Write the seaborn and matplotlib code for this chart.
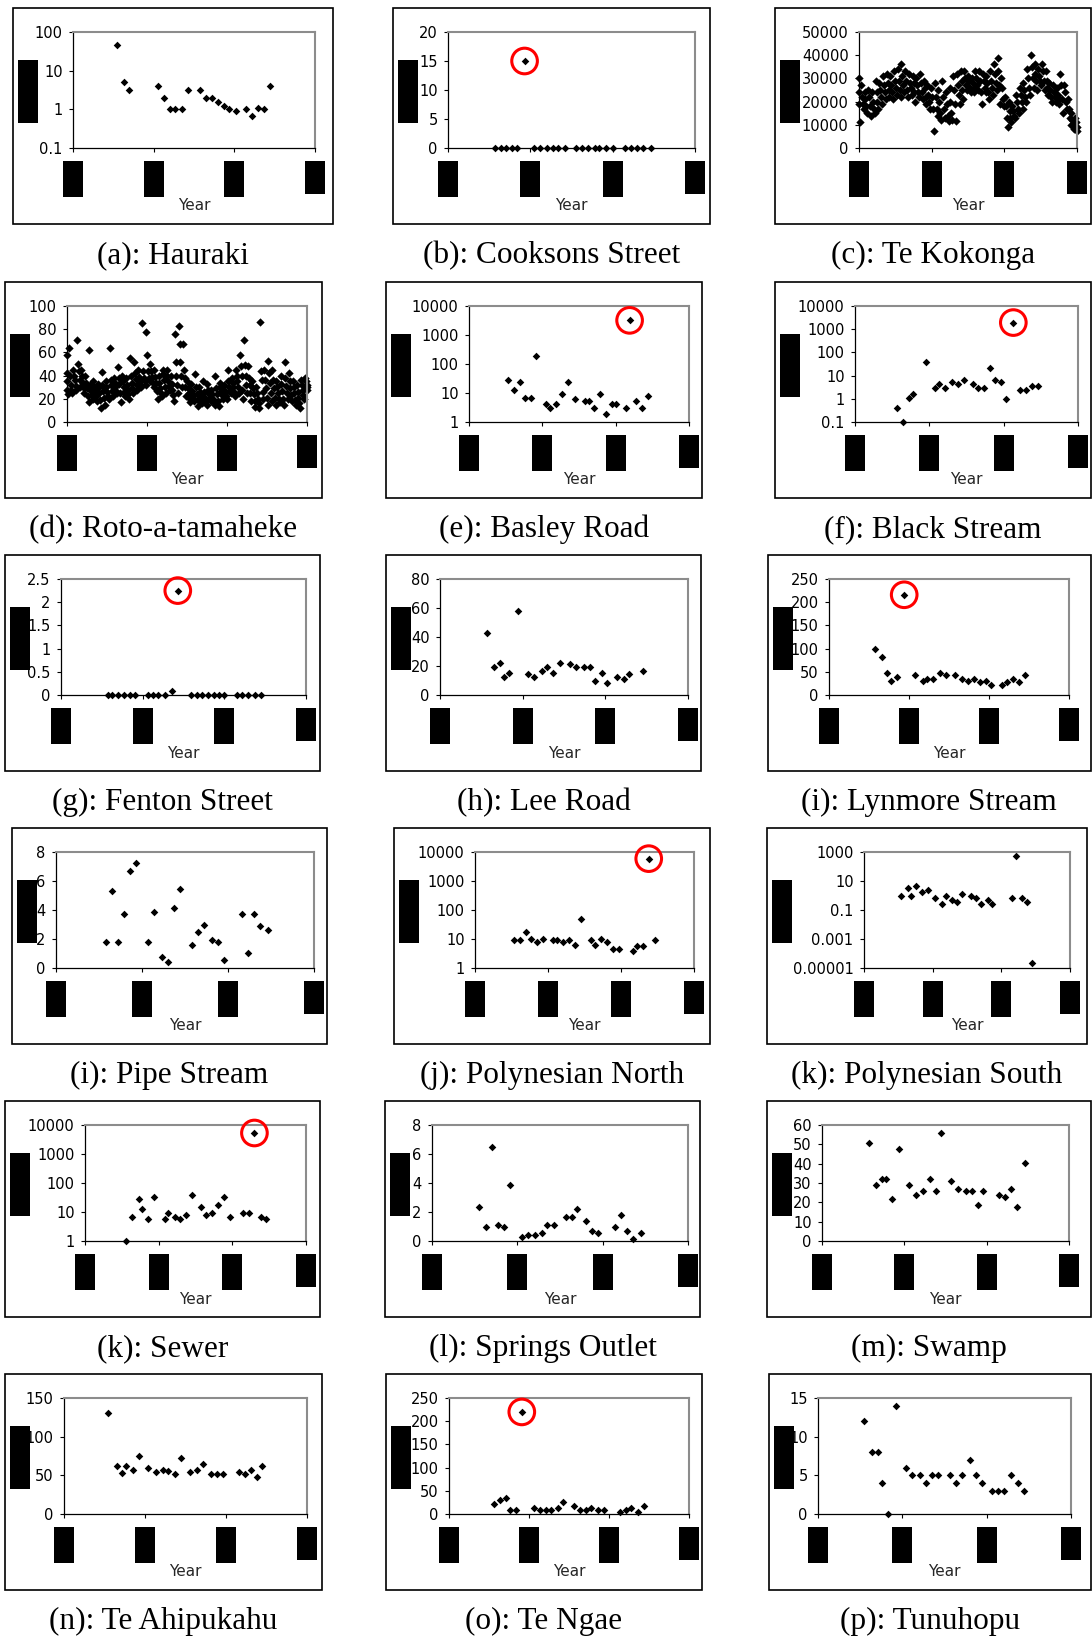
import matplotlib
matplotlib.use("Agg")
import matplotlib.pyplot as plt
from matplotlib.patches import Rectangle
import numpy as np
import seaborn as sns

sns.set_theme(style="white")
plt.rcParams["font.family"] = ["DejaVu Sans"]

W, H = 1092, 1637
XTICKS = [1980, 1990, 2000, 2010]

# sparse series (year, value)
HAURAKI_YEAR = [1985.5, 1986.3, 1987.0, 1990.5, 1991.3, 1992.0, 1992.7, 1993.5, 1994.2, 1995.7, 1996.5,
                1997.2, 1998.0, 1998.7, 1999.4, 2000.2, 2001.4, 2002.2, 2002.9, 2003.7, 2004.4]
HAURAKI_VAL = [45, 5, 3.1, 4, 2, 1, 1, 1, 3.1, 3.1, 2, 2, 1.55, 1.25, 1, 0.88, 1, 0.68, 1.1, 1, 4]

COOKSONS_YEAR = [1985.7, 1986.4, 1987.1, 1987.8, 1988.4, 1989.3, 1990.5, 1991.2, 1992.0, 1992.7, 1993.4, 1994.2,
                 1995.6, 1996.3, 1997.0, 1997.8, 1998.4, 1999.2, 2000.0, 2001.5, 2002.2, 2002.9, 2003.7, 2004.6]
COOKSONS_VAL = [0, 0, 0, 0, 0, 15, 0, 0, 0, 0, 0, 0, 0, 0, 0, 0, 0, 0, 0, 0, 0, 0, 0, 0]

BASLEY_YEAR = [1985.3, 1986.2, 1987.0, 1987.6, 1988.4, 1989.2, 1990.5, 1991.0, 1991.9, 1992.7, 1993.5, 1994.4,
               1995.8, 1996.4, 1997.1, 1997.9, 1998.7, 1999.5, 2000.0, 2001.4, 2001.9, 2002.8, 2003.6, 2004.4]
BASLEY_VAL = [28, 12.8, 24.8, 6.8, 6.8, 188, 4.25, 3.1, 4.25, 9.4, 24.8, 6.0, 5.1, 5.1, 3.1, 9.4, 1.93, 4.25,
              4.25, 3.1, 3200, 5.1, 3.1, 8.0]

BLACK_YEAR = [1985.6, 1986.4, 1987.3, 1987.8, 1989.5, 1990.8, 1991.3, 1992.1, 1993.0, 1993.8, 1994.6, 1995.9,
              1996.5, 1997.3, 1998.1, 1998.9, 1999.7, 2000.3, 2001.3, 2002.2, 2003.0, 2003.8, 2004.6]
BLACK_VAL = [0.41, 0.1, 1.1, 1.64, 37, 2.96, 4.4, 2.96, 5.5, 4.4, 6.5, 4.4, 2.96, 2.96, 21, 6.5, 5.5, 1.0,
             1930, 2.4, 2.4, 3.7, 3.7]

FENTON_YEAR = [1985.7, 1986.3, 1987.0, 1987.7, 1988.4, 1989.1, 1990.6, 1991.3, 1991.9, 1992.7, 1993.6, 1994.3,
               1995.9, 1996.6, 1997.3, 1998.0, 1998.7, 1999.4, 2000.0, 2001.5, 2002.2, 2002.9, 2003.7, 2004.5]
FENTON_VAL = [0, 0, 0, 0, 0, 0, 0, 0, 0, 0, 0.08, 2.25, 0, 0, 0, 0, 0, 0, 0, 0, 0, 0, 0, 0]

LEE_YEAR = [1985.7, 1986.5, 1987.2, 1987.8, 1988.4, 1989.4, 1990.7, 1991.4, 1992.3, 1993.0, 1993.7, 1994.5,
            1995.7, 1996.4, 1997.4, 1998.2, 1998.8, 1999.6, 2000.2, 2001.4, 2002.2, 2002.9, 2004.6]
LEE_VAL = [42.8, 19.3, 22.3, 12.4, 15.4, 57.9, 14.3, 12.4, 16.8, 19.3, 15.4, 22.3, 21.1, 19.3, 19.3, 19.3,
           9.7, 15.4, 8.5, 12.4, 11.3, 14.3, 16.8]

LYNMORE_YEAR = [1985.8, 1986.6, 1987.3, 1987.8, 1988.5, 1989.4, 1990.8, 1991.7, 1992.3, 1993.0, 1993.9, 1994.6,
                1995.8, 1996.6, 1997.4, 1998.1, 1998.9, 1999.6, 2000.3, 2001.6, 2002.3, 2003.0, 2003.8, 2004.5]
LYNMORE_VAL = [99, 82, 48, 30, 39, 216, 43, 30, 34, 34, 48, 43, 43, 34, 30, 34, 27, 30, 22, 22, 27, 34, 27, 43]

PIPE_YEAR = [1985.8, 1986.5, 1987.2, 1987.9, 1988.6, 1989.3, 1990.7, 1991.4, 1992.3, 1993.0, 1993.7, 1994.4,
             1995.8, 1996.5, 1997.2, 1998.1, 1998.8, 1999.5, 2001.6, 2002.3, 2003.0, 2003.7, 2004.7]
PIPE_VAL = [1.77, 5.33, 1.77, 3.70, 6.71, 7.26, 1.77, 3.86, 0.78, 0.39, 4.11, 5.47, 1.61, 2.46, 2.99, 1.91,
            1.77, 0.53, 3.70, 1.06, 3.70, 2.87, 2.60]

POLYN_YEAR = [1985.4, 1986.2, 1987.0, 1987.7, 1988.5, 1989.3, 1990.7, 1991.3, 1992.1, 1992.9, 1993.7, 1994.5,
              1995.9, 1996.5, 1997.3, 1998.1, 1998.9, 1999.7, 2001.6, 2002.2, 2003.0, 2003.8, 2004.7]
POLYN_VAL = [9.0, 9.0, 17, 10.3, 7.7, 10.3, 9.0, 9.0, 7.7, 9.0, 6.4, 50, 9.0, 6.4, 10.3, 7.7, 4.6, 4.6,
             4.0, 5.6, 5.6, 5900, 9.0]

POLYS_YEAR = [1985.4, 1986.4, 1986.9, 1987.5, 1988.4, 1989.3, 1990.4, 1991.3, 1991.9, 1992.8, 1993.6, 1994.2,
              1995.6, 1996.3, 1997.1, 1998.0, 1998.7, 2001.5, 2002.1, 2003.0, 2003.8, 2004.4]
POLYS_VAL = [0.96, 3.3, 0.96, 4.8, 1.8, 2.4, 0.66, 0.25, 0.96, 0.48, 0.37, 1.3, 0.96, 0.66, 0.25, 0.48,
             0.25, 0.66, 556, 0.66, 0.37, 2.3e-5]

SEWER_YEAR = [1985.6, 1986.4, 1987.3, 1987.8, 1988.6, 1989.4, 1990.8, 1991.3, 1992.2, 1992.9, 1993.7, 1994.5,
              1995.8, 1996.4, 1997.3, 1998.1, 1998.9, 1999.7, 2001.5, 2002.2, 2003.0, 2003.9, 2004.6]
SEWER_VAL = [1.0, 6.7, 28, 12.7, 5.7, 33, 5.7, 9.2, 6.7, 5.7, 7.9, 38.6, 14.9, 7.9, 9.2, 17.4, 33, 6.7,
             9.2, 9.2, 5300, 6.7, 5.7]

SPRINGS_YEAR = [1985.5, 1986.3, 1987.0, 1987.7, 1988.4, 1989.1, 1990.5, 1991.2, 1992.1, 1992.9, 1993.5, 1994.3,
                1995.7, 1996.4, 1997.0, 1998.0, 1998.7, 1999.4, 2001.5, 2002.2, 2002.9, 2003.6, 2004.5]
SPRINGS_VAL = [2.34, 0.97, 6.48, 1.10, 0.97, 3.86, 0.28, 0.41, 0.41, 0.55, 1.10, 1.10, 1.66, 1.66, 2.21,
               1.38, 0.69, 0.55, 0.97, 1.79, 0.69, 0.14, 0.55]

SWAMP_YEAR = [1985.7, 1986.5, 1987.3, 1987.8, 1988.5, 1989.4, 1990.6, 1991.4, 1992.3, 1993.1, 1993.8, 1994.5,
              1995.7, 1996.5, 1997.5, 1998.2, 1998.9, 1999.6, 2001.5, 2002.2, 2003.0, 2003.7, 2004.7]
SWAMP_VAL = [50.7, 29, 32, 32, 21.7, 47.6, 29, 23.8, 25.9, 32, 25.9, 55.9, 31, 26.9, 25.9, 25.9, 18.6, 25.9,
             23.8, 22.8, 26.9, 17.6, 40.3]

AHIPUKAHU_YEAR = [1985.4, 1986.5, 1987.2, 1987.7, 1988.5, 1989.2, 1990.4, 1991.4, 1992.2, 1992.9, 1993.7,
                  1994.4, 1995.6, 1996.4, 1997.1, 1998.1, 1998.9, 1999.6, 2001.6, 2002.3, 2003.1, 2003.8, 2004.5]
AHIPUKAHU_VAL = [131, 62.3, 52.5, 62.3, 57.2, 75, 59.7, 54.7, 57.2, 55, 52, 72, 54.7, 57.2, 64.8, 52, 52, 52,
                 54.7, 52, 57.2, 47.5, 62.3]

TENGAE_YEAR = [1985.6, 1986.4, 1987.1, 1987.6, 1988.4, 1989.1, 1990.6, 1991.4, 1992.1, 1992.8, 1993.6, 1994.3,
               1995.6, 1996.4, 1997.1, 1997.8, 1998.6, 1999.4, 2001.4, 2002.1, 2002.8, 2003.6, 2004.4]
TENGAE_VAL = [21, 29.6, 34, 8, 8, 220, 12.3, 8, 8, 8, 12.3, 25.3, 16.6, 8, 8, 12.3, 8, 8, 3.6, 8, 12.3, 3.6, 16.6]

TUNUHOPU_YEAR = [1985.5, 1986.4, 1987.1, 1987.6, 1988.3, 1989.3, 1990.4, 1991.1, 1992.1, 1992.8, 1993.5,
                 1994.2, 1995.7, 1996.4, 1997.1, 1998.0, 1998.7, 1999.4, 2000.6, 2001.3, 2002.0, 2002.9,
                 2003.7, 2004.4]
TUNUHOPU_VAL = [12, 8, 8, 4, 0, 14, 6, 5, 5, 4, 5, 5, 5, 4, 5, 7, 5, 4, 3, 3, 3, 5, 4, 3]

# dense records: several readings per sampling step, 1980-2010 (Te Kokonga in thousands)
TK_HI = [30, 27, 24, 25, 24, 29, 28, 31, 32, 31, 33, 34, 36, 33, 32, 31, 30, 32, 29, 27, 26, 28, 25, 29, 24,
         26, 31, 32, 33, 33, 31, 30, 33, 33, 32, 31, 33, 36, 39, 30, 22, 20, 18, 23, 26, 28, 34, 40, 36, 34,
         36, 33, 28, 27, 26, 32, 27, 21, 15, 13]
TK_M1 = [24, 22, 21, 22, 20, 24, 25, 27, 28, 27, 29, 29, 31, 29, 28, 28, 27, 28, 26, 23, 22, 22, 20, 22, 19,
         20, 25, 27, 29, 30, 29, 28, 30, 29, 29, 28, 29, 32, 33, 26, 18, 16, 16, 20, 23, 25, 30, 35, 32, 31,
         33, 29, 25, 24, 23, 27, 24, 17, 12, 11]
TK_M2 = [19, 19, 18, 18, 17, 20, 22, 24, 25, 24, 26, 25, 27, 25, 26, 24, 24, 24, 22, 20, 17, 17, 15, 17, 14,
         15, 19, 23, 25, 27, 26, 26, 27, 24, 26, 24, 26, 28, 27, 21, 13, 13, 14, 17, 20, 22, 26, 30, 29, 29,
         29, 26, 22, 22, 21, 21, 20, 13, 10, 9]
TK_LO = [11, 17, 15, 14, 15, 17, 19, 21, 22, 21, 23, 22, 24, 22, 23, 20, 22, 21, 19, 17, 7.5, 14, 12, 13,
         11.5, 12, 11.5, 19, 21, 25, 24, 24, 25, 19, 24, 21, 23, 25, 19, 18, 9, 11, 13, 15, 17, 20, 23, 26,
         25, 27, 25, 23, 20, 20, 19, 15, 17, 10, 8, 7.5]

ROTO_HI = [58, 64, 45, 71, 45, 40, 62, 35, 33, 43, 35, 64, 38, 47, 40, 38, 55, 52, 45, 85, 78, 50, 45, 40,
           45, 45, 40, 76, 83, 67, 35, 33, 41, 30, 35, 33, 28, 40, 34, 32, 45, 38, 45, 58, 71, 48, 35, 30,
           86, 45, 53, 45, 35, 40, 52, 42, 35, 32, 36, 38]
ROTO_UP = [42, 40, 40, 50, 40, 34, 32, 30, 29, 32, 30, 36, 34, 38, 35, 32, 40, 42, 39, 44, 58, 44, 39, 34,
           41, 40, 33, 52, 67, 45, 29, 27, 30, 26, 26, 28, 24, 29, 30, 28, 35, 34, 40, 48, 49, 38, 29, 25,
           44, 36, 42, 36, 30, 33, 38, 35, 30, 26, 32, 35]
ROTO_MID = [35, 32, 36, 44, 34, 29, 27, 26, 25, 27, 26, 32, 30, 33, 30, 28, 34, 37, 35, 38, 44, 39, 34, 29,
            36, 35, 28, 40, 52, 38, 25, 23, 24, 22, 21, 24, 20, 24, 27, 25, 30, 30, 35, 40, 40, 32, 24, 20,
            36, 29, 34, 29, 25, 27, 31, 29, 25, 21, 28, 32]
ROTO_LOW = [28, 28, 31, 36, 29, 22, 23, 22, 19, 21, 22, 27, 27, 25, 26, 24, 29, 32, 32, 35, 38, 34, 27, 25,
            30, 31, 23, 32, 40, 30, 21, 20, 19, 19, 18, 21, 17, 18, 23, 22, 27, 26, 30, 28, 32, 25, 18, 16,
            26, 21, 25, 21, 20, 20, 25, 23, 19, 16, 23, 30]
ROTO_LO = [24, 25, 28, 30, 25, 17, 20, 18, 12, 15, 20, 22, 25, 17, 22, 20, 25, 28, 30, 32, 35, 30, 20, 22,
           25, 28, 18, 25, 30, 22, 17, 18, 14, 16, 15, 18, 15, 14, 20, 20, 25, 22, 25, 20, 25, 18, 13, 12,
           20, 15, 18, 15, 17, 15, 20, 18, 15, 12, 20, 28]

# row top of each frame and panel geometry in pixels: frame (left, right), plot area (left, right)
ROW_TOPS = [8, 282, 555, 828, 1101, 1374]

PANELS = [
    dict(row=0, box=(12.5, 333), plot=(73, 315), cap="(a): Hauraki", x=HAURAKI_YEAR, y=HAURAKI_VAL,
         log=True, lim=(0.1, 100), ticks=[0.1, 1, 10, 100]),
    dict(row=0, box=(393, 710), plot=(448, 695), cap="(b): Cooksons Street", x=COOKSONS_YEAR, y=COOKSONS_VAL,
         log=False, lim=(0, 20), ticks=[0, 5, 10, 15, 20], out=5),
    dict(row=0, box=(775, 1090.5), plot=(859, 1077), cap="(c): Te Kokonga", dense=[TK_HI, TK_M1, TK_M2, TK_LO],
         scale=1000, log=False, lim=(0, 50000), ticks=[0, 10000, 20000, 30000, 40000, 50000]),
    dict(row=1, box=(5, 322), plot=(67, 307), cap="(d): Roto-a-tamaheke",
         dense=[ROTO_HI, ROTO_UP, ROTO_MID, ROTO_LOW, ROTO_LO], scale=1,
         log=False, lim=(0, 100), ticks=[0, 20, 40, 60, 80, 100]),
    dict(row=1, box=(385.5, 702), plot=(469, 689), cap="(e): Basley Road", x=BASLEY_YEAR, y=BASLEY_VAL,
         log=True, lim=(1, 10000), ticks=[1, 10, 100, 1000, 10000], out=20),
    dict(row=1, box=(775, 1090.5), plot=(855, 1078), cap="(f): Black Stream", x=BLACK_YEAR, y=BLACK_VAL,
         log=True, lim=(0.1, 10000), ticks=[0.1, 1, 10, 100, 1000, 10000], out=18),
    dict(row=2, box=(5, 320), plot=(61, 306), cap="(g): Fenton Street", x=FENTON_YEAR, y=FENTON_VAL,
         log=False, lim=(0, 2.5), ticks=[0, 0.5, 1, 1.5, 2, 2.5], out=11),
    dict(row=2, box=(386, 701), plot=(440, 688), cap="(h): Lee Road", x=LEE_YEAR, y=LEE_VAL,
         log=False, lim=(0, 80), ticks=[0, 20, 40, 60, 80]),
    dict(row=2, box=(768, 1090.5), plot=(829, 1069), cap="(i): Lynmore Stream", x=LYNMORE_YEAR, y=LYNMORE_VAL,
         log=False, lim=(0, 250), ticks=[0, 50, 100, 150, 200, 250], out=5),
    dict(row=3, box=(11.5, 327), plot=(56, 314), cap="(i): Pipe Stream", x=PIPE_YEAR, y=PIPE_VAL,
         log=False, lim=(0, 8), ticks=[0, 2, 4, 6, 8]),
    dict(row=3, box=(394, 710), plot=(475, 694), cap="(j): Polynesian North", x=POLYN_YEAR, y=POLYN_VAL,
         log=True, lim=(1, 10000), ticks=[1, 10, 100, 1000, 10000], out=21),
    dict(row=3, box=(767, 1087), plot=(864, 1070), cap="(k): Polynesian South", x=POLYS_YEAR, y=POLYS_VAL,
         log=True, lim=(1e-5, 1000), ticks=[1e-5, 1e-3, 0.1, 10, 1000]),
    dict(row=4, box=(5, 320), plot=(85, 306), cap="(k): Sewer", x=SEWER_YEAR, y=SEWER_VAL,
         log=True, lim=(1, 10000), ticks=[1, 10, 100, 1000, 10000], out=20),
    dict(row=4, box=(385, 700), plot=(432, 688), cap="(l): Springs Outlet", x=SPRINGS_YEAR, y=SPRINGS_VAL,
         log=False, lim=(0, 8), ticks=[0, 2, 4, 6, 8]),
    dict(row=4, box=(767, 1090.5), plot=(822, 1069), cap="(m): Swamp", x=SWAMP_YEAR, y=SWAMP_VAL,
         log=False, lim=(0, 60), ticks=[0, 10, 20, 30, 40, 50, 60]),
    dict(row=5, box=(5, 322), plot=(64, 307), cap="(n): Te Ahipukahu", x=AHIPUKAHU_YEAR, y=AHIPUKAHU_VAL,
         log=False, lim=(0, 150), ticks=[0, 50, 100, 150]),
    dict(row=5, box=(385.5, 702), plot=(449, 689), cap="(o): Te Ngae", x=TENGAE_YEAR, y=TENGAE_VAL,
         log=False, lim=(0, 250), ticks=[0, 50, 100, 150, 200, 250], out=5),
    dict(row=5, box=(769, 1090.5), plot=(818, 1071), cap="(p): Tunuhopu", x=TUNUHOPU_YEAR, y=TUNUHOPU_VAL,
         log=False, lim=(0, 15), ticks=[0, 5, 10, 15]),
]


def fig_rect(fig, x0, y0, x1, y1, **kw):
    # pixel box (top-left origin) -> figure rectangle
    fig.add_artist(Rectangle((x0 / W, 1 - y1 / H), (x1 - x0) / W, (y1 - y0) / H,
                             transform=fig.transFigure, **kw))


def draw_panel(fig, p):
    top = ROW_TOPS[p["row"]]
    bl, br = p["box"]
    pl, pr = p["plot"]

    fig_rect(fig, bl, top, br, top + 216, fill=False, ec="black", lw=1.2)

    ax = fig.add_axes([pl / W, 1 - (top + 140) / H, (pr - pl) / W, 116 / H])
    ax.set_facecolor("white")

    if "dense" in p:
        n = len(p["dense"][0])
        nb = len(p["dense"])
        steps = np.linspace(XTICKS[0], XTICKS[-1], n)
        step = steps[1] - steps[0]
        # readings within one sampling step are spread across that step
        xs = np.concatenate([np.clip(steps + (k - nb / 2) * step / nb, XTICKS[0], XTICKS[-1])
                             for k in range(nb)])
        ys = np.concatenate([np.array(b, dtype=float) * p["scale"] for b in p["dense"]])
        sns.scatterplot(x=xs, y=ys, marker="D", s=18, color="black", linewidth=0,
                        ax=ax, legend=False, clip_on=False)
    else:
        sns.scatterplot(x=p["x"], y=p["y"], marker="D", s=15, color="black", linewidth=0,
                        ax=ax, legend=False, clip_on=False)
        if "out" in p:
            i = p["out"]
            ax.scatter([p["x"][i]], [p["y"][i]], s=340, facecolors="none", edgecolors="#ff0000",
                       linewidths=2.2, clip_on=False, zorder=5)

    if p["log"]:
        ax.set_yscale("log")
    ax.set_ylim(*p["lim"])
    ax.set_yticks(p["ticks"])
    ax.set_yticklabels([np.format_float_positional(float(t), trim="-") for t in p["ticks"]])
    ax.minorticks_off()
    ax.set_xlim(XTICKS[0], XTICKS[-1])
    ax.set_xticks(XTICKS)
    ax.set_xticklabels([])
    ax.tick_params(axis="both", direction="out", length=3, width=0.8, color="black",
                   left=True, bottom=True, labelsize=10.5, pad=4.5, labelcolor="black")
    for side in ["left", "bottom"]:
        ax.spines[side].set_color("black")
        ax.spines[side].set_linewidth(0.9)
    for side in ["top", "right"]:
        ax.spines[side].set_color("#8c8c8c")
        ax.spines[side].set_linewidth(1.5)

    # redaction blocks over axis title and year labels
    fig_rect(fig, bl + 5, top + 52, bl + 25, top + 115, color="black", lw=0)
    for k, t in enumerate(XTICKS):
        cx = pl + (t - XTICKS[0]) / (XTICKS[-1] - XTICKS[0]) * (pr - pl)
        bottom = top + 186 if k == len(XTICKS) - 1 else top + 189
        fig_rect(fig, cx - 10, top + 153, cx + 10, bottom, color="black", lw=0)

    fig.text((pl + pr) / 2 / W, 1 - (top + 198) / H, "Year", ha="center", va="center", fontsize=11)
    fig.text((bl + br) / 2 / W, 1 - (top + 255) / H, p["cap"], ha="center", va="baseline",
             fontsize=22.5, color="black", family=["Liberation Serif", "DejaVu Serif"])


fig = plt.figure(figsize=(W / 100, H / 100), dpi=100)
fig.patch.set_facecolor("white")
for panel in PANELS:
    draw_panel(fig, panel)

fig.savefig("out.png", dpi=100)
